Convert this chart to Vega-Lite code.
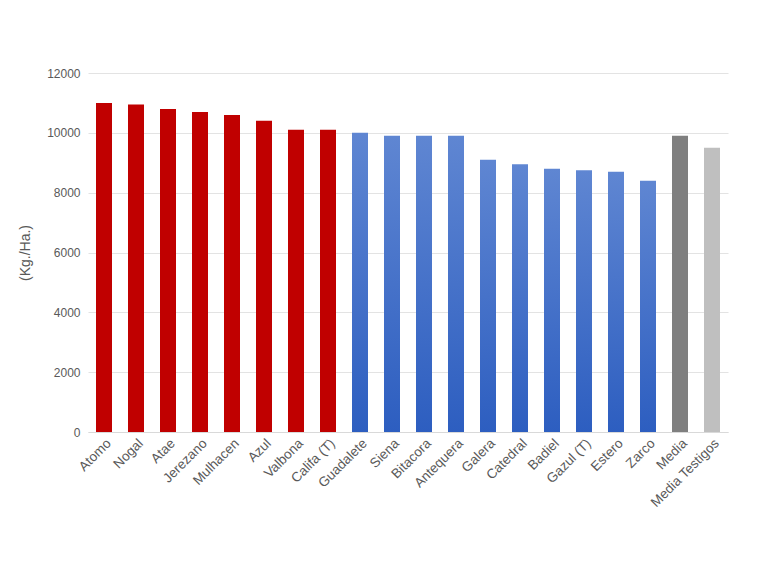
{
  "$schema": "https://vega.github.io/schema/vega-lite/v6.json",
  "width": 640,
  "height": 359,
  "autosize": "none",
  "padding": {"left": 88, "top": 73, "right": 40, "bottom": 144},
  "background": "white",
  "data": {
    "values": [
      {"variedad": "Atomo", "kg": 11000, "grupo": "rojo"},
      {"variedad": "Nogal", "kg": 10950, "grupo": "rojo"},
      {"variedad": "Atae", "kg": 10800, "grupo": "rojo"},
      {"variedad": "Jerezano", "kg": 10700, "grupo": "rojo"},
      {"variedad": "Mulhacen", "kg": 10600, "grupo": "rojo"},
      {"variedad": "Azul", "kg": 10400, "grupo": "rojo"},
      {"variedad": "Valbona", "kg": 10100, "grupo": "rojo"},
      {"variedad": "Califa (T)", "kg": 10100, "grupo": "rojo"},
      {"variedad": "Guadalete", "kg": 10000, "grupo": "azul"},
      {"variedad": "Siena", "kg": 9900, "grupo": "azul"},
      {"variedad": "Bitacora", "kg": 9900, "grupo": "azul"},
      {"variedad": "Antequera", "kg": 9900, "grupo": "azul"},
      {"variedad": "Galera", "kg": 9100, "grupo": "azul"},
      {"variedad": "Catedral", "kg": 8950, "grupo": "azul"},
      {"variedad": "Badiel", "kg": 8800, "grupo": "azul"},
      {"variedad": "Gazul (T)", "kg": 8750, "grupo": "azul"},
      {"variedad": "Estero", "kg": 8700, "grupo": "azul"},
      {"variedad": "Zarco", "kg": 8400, "grupo": "azul"},
      {"variedad": "Media", "kg": 9900, "grupo": "media"},
      {"variedad": "Media Testigos", "kg": 9500, "grupo": "testigos"}
    ]
  },
  "encoding": {
    "x": {
      "field": "variedad",
      "type": "nominal",
      "title": null,
      "scale": {
        "domain": ["Atomo", "Nogal", "Atae", "Jerezano", "Mulhacen", "Azul", "Valbona", "Califa (T)", "Guadalete", "Siena", "Bitacora", "Antequera", "Galera", "Catedral", "Badiel", "Gazul (T)", "Estero", "Zarco", "Media", "Media Testigos"],
        "paddingInner": 0.5,
        "paddingOuter": 0.25
      },
      "axis": {
        "labelAngle": -45,
        "labelFontSize": 13.5,
        "labelColor": "#595959",
        "ticks": false,
        "domainColor": "#D9D9D9",
        "labelPadding": 4
      }
    },
    "y": {
      "field": "kg",
      "type": "quantitative",
      "title": "(Kg./Ha.)",
      "scale": {"domain": [0, 12000]},
      "axis": {
        "values": [0, 2000, 4000, 6000, 8000, 10000, 12000],
        "format": "d",
        "labelFontSize": 12,
        "labelColor": "#595959",
        "labelPadding": 8,
        "ticks": false,
        "domain": false,
        "gridColor": "#E3E3E3",
        "titleFontSize": 14,
        "titleFontWeight": "normal",
        "titleColor": "#595959",
        "titlePadding": 14
      }
    }
  },
  "layer": [
    {
      "transform": [{"filter": "datum.grupo !== 'azul'"}],
      "mark": {"type": "bar"},
      "encoding": {
        "color": {
          "field": "grupo",
          "type": "nominal",
          "legend": null,
          "scale": {
            "domain": ["rojo", "media", "testigos"],
            "range": ["#C00000", "#7F7F7F", "#BFBFBF"]
          }
        }
      }
    },
    {
      "transform": [{"filter": "datum.grupo === 'azul'"}],
      "mark": {
        "type": "bar",
        "color": {
          "gradient": "linear",
          "x1": 0, "y1": 0, "x2": 0, "y2": 1,
          "stops": [
            {"offset": 0, "color": "#5F86D2"},
            {"offset": 1, "color": "#2D5EC0"}
          ]
        }
      }
    }
  ],
  "config": {
    "font": "Liberation Sans",
    "view": {"stroke": null}
  }
}
